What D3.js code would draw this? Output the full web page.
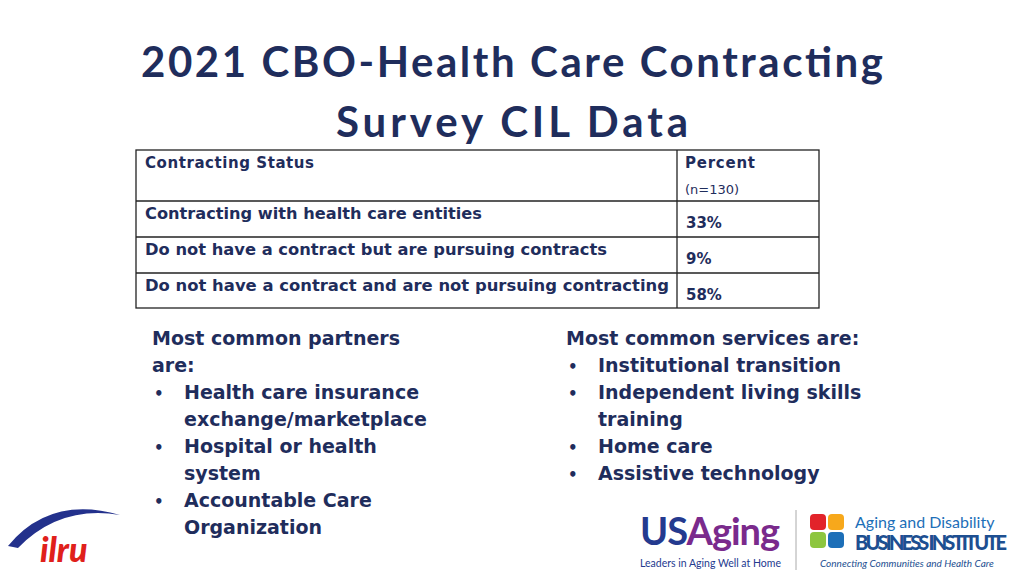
<!DOCTYPE html>
<html><head><meta charset="utf-8">
<script src="https://cdn.jsdelivr.net/npm/d3@7"></script>
<style>body{margin:0;background:#fff}svg{display:block}</style>
</head><body>
<script>
const titleLines = ["2021 CBO-Health Care Contracting", "Survey CIL Data"];
const titleWidths = [742, 352];
const headers = ["Contracting Status", "Percent", "(n=130)"];
const statuses = ["Contracting with health care entities",
  "Do not have a contract but are pursuing contracts",
  "Do not have a contract and are not pursuing contracting"];
const statusWidths = [337, 462, 524];
const percents = ["33%", "9%", "58%"];
const partnersLines = [
  {t:"Most common partners", b:false, i:false},
  {t:"are:", b:false, i:false},
  {t:"Health care insurance", b:true, i:true},
  {t:"exchange/marketplace", b:false, i:true},
  {t:"Hospital or health", b:true, i:true},
  {t:"system", b:false, i:true},
  {t:"Accountable Care", b:true, i:true},
  {t:"Organization", b:false, i:true}];
const servicesLines = [
  {t:"Most common services are:", b:false, i:false},
  {t:"Institutional transition", b:true, i:true},
  {t:"Independent living skills", b:true, i:true},
  {t:"training", b:false, i:true},
  {t:"Home care", b:true, i:true},
  {t:"Assistive technology", b:true, i:true}];

const W = 1024, H = 576, navy = "#1f2d5c", font = "'DejaVu Sans', sans-serif";
const svg = d3.select("body").append("svg").attr("width", W).attr("height", H)
  .style("font-family", font);

svg.selectAll("text.title").data(titleLines).join("text")
  .attr("x", 512).attr("y", (d, i) => 77 + i * 60)
  .attr("text-anchor", "middle").attr("font-size", 42).attr("font-weight", 700)
  .attr("font-family", "Lato, sans-serif")
  .attr("textLength", (d, i) => titleWidths[i]).attr("lengthAdjust", "spacing")
  .attr("fill", navy).text(d => d);

// table
const x0 = 136, xs = 677, x1 = 819;
const rowY = d3.scaleOrdinal().domain([0, 1, 2, 3]).range([150, 201, 237, 273]);
const tg = svg.append("g").attr("fill", navy).attr("font-size", 15).attr("font-weight", 700);
tg.append("rect").attr("x", x0).attr("y", 150).attr("width", x1 - x0).attr("height", 158)
  .attr("fill", "none").attr("stroke", "#222").attr("stroke-width", 1.3);
[1, 2, 3].forEach(i => tg.append("line").attr("x1", x0).attr("x2", x1)
  .attr("y1", rowY(i)).attr("y2", rowY(i)).attr("stroke", "#222").attr("stroke-width", 1.3));
tg.append("line").attr("x1", xs).attr("x2", xs).attr("y1", 150).attr("y2", 308)
  .attr("stroke", "#222").attr("stroke-width", 1.3);
tg.append("text").attr("x", 145).attr("y", 168).attr("textLength", 169).text(headers[0]);
tg.append("text").attr("x", 685).attr("y", 168).attr("textLength", 70).text(headers[1]);
tg.append("text").attr("x", 685).attr("y", 194).attr("font-size", 13).attr("font-weight", 400).text(headers[2]);
statuses.forEach((s, i) => {
  tg.append("text").attr("x", 145).attr("y", rowY(i + 1) + 18)
    .attr("textLength", statusWidths[i]).attr("lengthAdjust", "spacingAndGlyphs").text(s);
  tg.append("text").attr("x", 686).attr("y", rowY(i + 1) + 27).text(percents[i]);
});

function block(lines, x, y0) {
  const g = svg.append("g").attr("fill", navy).attr("font-size", 19).attr("font-weight", 700);
  lines.forEach((d, i) => {
    const y = y0 + i * 27;
    if (d.b) g.append("text").attr("x", x + 2).attr("y", y).attr("font-size", 15).text("•");
    g.append("text").attr("x", d.i ? x + 32 : x).attr("y", y).text(d.t);
  });
}
block(partnersLines, 152, 345);
block(servicesLines, 566, 345);

// logos (approximate)
svg.append("path").attr("d", "M8,546 Q50,495 120,515 Q60,505 18,548 Z").attr("fill", "#23318c");
svg.append("text").attr("x", 40).attr("y", 562).attr("font-size", 34).attr("font-weight", 900)
  .attr("font-family", "Lato, sans-serif")
  .attr("font-style", "italic").attr("fill", "#e0201b").text("ilru");
svg.append("text").attr("x", 640).attr("y", 545).attr("font-size", 38).attr("font-weight", 700)
  .attr("font-family", "Lato, sans-serif")
  .attr("fill", "#243a8f").attr("letter-spacing", -1).html('US<tspan fill="#7a2a8c">Aging</tspan>');
svg.append("text").attr("x", 640).attr("y", 567).attr("font-size", 10.5).attr("fill", "#243a8f")
  .attr("font-family", "Lato, sans-serif").text("Leaders in Aging Well at Home");
svg.append("line").attr("x1", 796).attr("x2", 796).attr("y1", 510).attr("y2", 570).attr("stroke", "#aaa");
const pc = ["#e2232a", "#f7a81b", "#8dc63f", "#1d6fb8"];
pc.forEach((c, i) => svg.append("rect").attr("x", 810 + (i % 2) * 18).attr("y", 514 + Math.floor(i / 2) * 18)
  .attr("width", 16).attr("height", 16).attr("rx", 4).attr("fill", c));
svg.append("text").attr("x", 855).attr("y", 528).attr("font-size", 16).attr("fill", "#1d6fb8")
  .attr("font-family", "Lato, sans-serif").text("Aging and Disability");
svg.append("text").attr("x", 855).attr("y", 550).attr("font-size", 20).attr("font-weight", 900)
  .attr("font-family", "Lato, sans-serif")
  .attr("fill", "#1d4f91").attr("textLength", 152).text("BUSINESS INSTITUTE");
svg.append("text").attr("x", 820).attr("y", 567).attr("font-size", 10).attr("font-style", "italic")
  .attr("font-family", "Lato, sans-serif")
  .attr("fill", "#1d4f91").text("Connecting Communities and Health Care");
</script>
</body></html>
